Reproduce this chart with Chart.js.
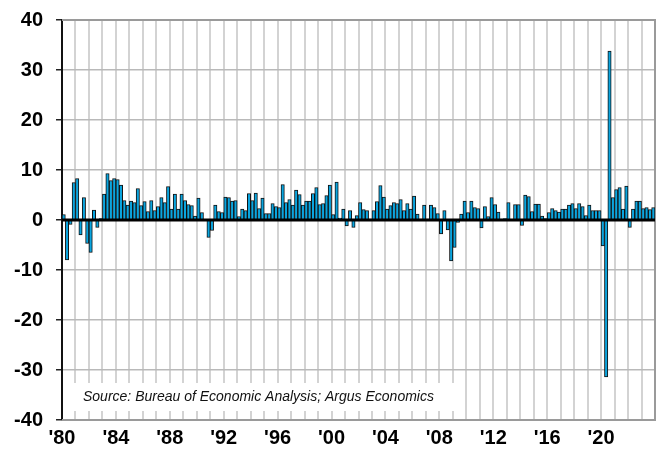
<!DOCTYPE html>
<html>
<head>
<meta charset="utf-8">
<script src="https://cdn.jsdelivr.net/npm/chart.js@4.4.1/dist/chart.umd.min.js"></script>
<style>
  html, body { margin: 0; padding: 0; background: #fff; }
</style>
</head>
<body>
<canvas id="chart" width="659" height="449"></canvas>
<script>
// quarterly real GDP growth, annualized %
const firstYear = 1980;
const lastYear = 2023;
const tickLabels = ["'80", "'84", "'88", "'92", "'96", "'00", "'04", "'08", "'12", "'16", "'20"];

const gdp1980s = [
  1.1, -8.0, -0.9, 7.5,   8.3, -3.0, 4.5, -4.7,   -6.5, 2.0, -1.5, 0.3,   5.2, 9.3, 7.9, 8.3,
  8.1, 7.0, 3.9, 3.0,     3.8, 3.5, 6.3, 2.9,     3.7, 1.7, 3.9, 1.9,     2.7, 4.5, 3.5, 6.7,
  2.2, 5.2, 2.2, 5.2,     3.9, 3.1, 2.9, 0.8
];
const gdp1990s = [
  4.4, 1.5, 0.1, -3.5,    -2.1, 3.0, 1.7, 1.5,    4.6, 4.5, 3.8, 3.9,     0.7, 2.2, 1.9, 5.3,
  3.9, 5.4, 2.3, 4.4,     1.3, 1.3, 3.3, 2.7,     2.5, 7.1, 3.5, 4.1,     3.0, 6.0, 5.1, 3.0,
  3.8, 3.8, 5.3, 6.5,     3.1, 3.3, 4.9, 7.0
];
const gdp2000s = [
  1.1, 7.6, 0.4, 2.2,     -1.2, 1.9, -1.5, 0.9,   3.5, 2.1, 1.9, 0.2,     1.9, 3.7, 6.9, 4.6,
  2.2, 2.9, 3.5, 3.3,     4.1, 1.9, 3.3, 2.2,     4.8, 1.2, 0.2, 3.0,     0.2, 3.0, 2.5, 1.3,
  -2.8, 1.9, -2.0, -8.2,  -5.5, -0.5, 1.2, 3.8
];
const gdp2010s = [
  1.5, 3.8, 2.5, 2.3,     -1.6, 2.7, 0.7, 4.5,    3.1, 1.6, 0.2, 0.3,     3.5, 0.1, 3.1, 3.1,
  -1.1, 5.0, 4.7, 1.7,    3.2, 3.2, 0.8, 0.3,     1.5, 2.3, 1.9, 1.6,     2.2, 2.2, 3.0, 3.3,
  2.3, 3.3, 2.7, 0.9,     3.0, 1.9, 1.9, 1.9
];
const gdp2020s = [
  -5.2, -31.4, 33.8, 4.5, 6.1, 6.5, 2.2, 6.8,     -1.5, 2.2, 3.8, 3.8,    2.3, 2.5, 2.1, 2.5
];

const growth = [].concat(gdp1980s, gdp1990s, gdp2000s, gdp2010s, gdp2020s);
const quarters = [];
for (let y = firstYear; y <= lastYear; y++) {
  for (let q = 1; q <= 4; q++) quarters.push(y + 'Q' + q);
}

const font = "'Liberation Sans', Arial, Helvetica, sans-serif";

// frame, zero line and source note
const extras = {
  id: 'extras',
  beforeDatasetsDraw(chart) {
    const { ctx, chartArea: a } = chart;
    ctx.save();
    ctx.strokeStyle = '#9a9a9a';
    ctx.lineWidth = 2;
    ctx.beginPath();
    ctx.moveTo(a.left, a.top);
    ctx.lineTo(a.right, a.top);
    ctx.lineTo(a.right, a.bottom);
    ctx.lineTo(a.left, a.bottom);
    ctx.stroke();
    ctx.restore();
  },
  afterDatasetsDraw(chart) {
    const { ctx, chartArea: a, scales } = chart;
    const y0 = scales.y.getPixelForValue(0);
    ctx.save();
    ctx.strokeStyle = '#000';
    ctx.lineWidth = 3;
    ctx.beginPath();
    ctx.moveTo(a.left, y0);
    ctx.lineTo(a.right, y0);
    ctx.stroke();

    // source box
    ctx.fillStyle = '#fff';
    ctx.fillRect(a.left + 2, a.bottom - 37, 392, 28);
    ctx.fillStyle = '#111';
    ctx.font = 'italic 14px ' + font;
    ctx.textBaseline = 'middle';
    ctx.fillText('Source: Bureau of Economic Analysis; Argus Economics', a.left + 21, a.bottom - 23);
    ctx.restore();
  }
};

new Chart(document.getElementById('chart'), {
  type: 'bar',
  data: {
    labels: quarters,
    datasets: [{
      data: growth,
      backgroundColor: '#0aa5df',
      borderColor: '#111',
      borderWidth: 1,
      barPercentage: 1,
      categoryPercentage: 1
    }]
  },
  options: {
    responsive: false,
    animation: false,
    layout: { padding: { top: 20, right: 4, left: 0, bottom: 0 } },
    plugins: {
      legend: { display: false },
      tooltip: { enabled: false }
    },
    scales: {
      x: {
        offset: true,
        grid: {
          offset: true,
          drawTicks: false,
          lineWidth: 2,
          color: c => (c.index % 4 === 0 ? '#d3d3d3' : 'rgba(0,0,0,0)')
        },
        border: { display: false },
        ticks: {
          autoSkip: false,
          maxRotation: 0,
          minRotation: 0,
          padding: 6,
          labelOffset: -1.7,
          color: '#000',
          font: { family: font, size: 20, weight: 'bold' },
          callback: (v, i) => (i % 16 === 0 ? tickLabels[i / 16] : '')
        },
        afterFit: s => { s.height = 29; s.paddingLeft = 0; s.paddingRight = 0; }
      },
      y: {
        min: -40,
        max: 40,
        ticks: {
          stepSize: 10,
          padding: 13,
          color: '#000',
          font: { family: font, size: 20, weight: 'bold' }
        },
        grid: {
          tickLength: 6,
          tickColor: '#222',
          lineWidth: 1.5,
          color: c => (c.tick && c.tick.value === 0 ? 'rgba(0,0,0,0)' : '#b9b9b9')
        },
        border: { color: '#111', width: 2 },
        afterFit: s => { s.width = 62; s.paddingTop = 0; s.paddingBottom = 0; }
      }
    }
  },
  plugins: [extras]
});
</script>
</body>
</html>
